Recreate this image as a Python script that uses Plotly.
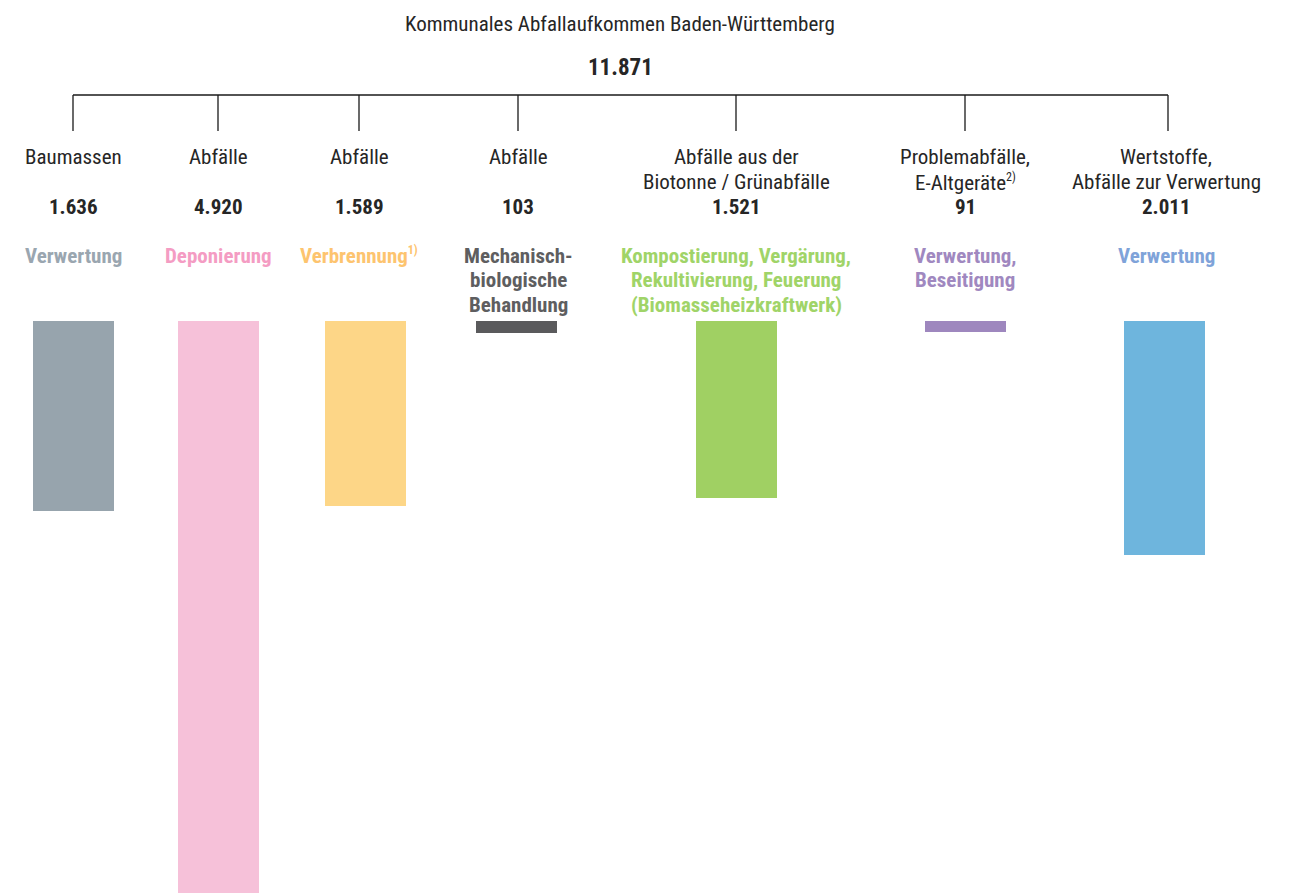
import plotly.graph_objects as go

# ---------------- data ----------------
categories = [
    "Baumassen",
    "Abfälle",
    "Abfälle",
    "Abfälle",
    "Abfälle aus der<br>Biotonne / Grünabfälle",
    "Problemabfälle,<br>E-Altgeräte<sup><span style='font-size:12px'>2)</span></sup>",
    "Wertstoffe,<br>Abfälle zur Verwertung",
]
values = [1636, 4920, 1589, 103, 1521, 91, 2011]
treatments = [
    "Verwertung",
    "Deponierung",
    "Verbrennung<sup><span style='font-size:12px'>1)</span></sup>",
    "Mechanisch-<br>biologische<br>Behandlung",
    "Kompostierung, Vergärung,<br>Rekultivierung, Feuerung<br>(Biomasseheizkraftwerk)",
    "Verwertung,<br>Beseitigung",
    "Verwertung",
]
title_text = "Kommunales Abfallaufkommen Baden-Württemberg"
total = sum(values)

# ---------------- styles / layout ----------------
bar_colors = ["#97A4AD", "#F6C1D9", "#FDD687", "#5A5A5C", "#A0D063", "#9E87BE", "#6EB5DD"]
text_colors = ["#9AA6B0", "#F49CC3", "#FDC46F", "#5E5E60", "#A0D468", "#A088C0", "#7FA3D9"]
bar_x = [73, 218, 365, 516, 736, 965, 1164]
label_x = [73, 218, 359, 518, 736, 965, 1166]
tick_x = [73, 218, 359, 518, 736, 965, 1168]

W, H = 1293, 893
BAR_TOP = 321
px_per_unit = (H - BAR_TOP) / max(values)
y_top = -BAR_TOP / px_per_unit
y_bottom = max(values)

FONT = "Liberation Sans Narrow, Arial Narrow, Roboto Condensed, Roboto, sans-serif"
DARK = "#262626"


def fmt(v):
    return f"{v:,}".replace(",", ".")


def py(px):
    return 1 - px / H


fig = go.Figure()
fig.add_trace(go.Bar(
    x=bar_x, y=values, base=0, width=81,
    marker=dict(color=bar_colors, line=dict(width=0)),
    hoverinfo="skip", showlegend=False,
))

ann = []


def add_text(x, y_px, text, size, color, bold=False):
    t = f"<b>{text}</b>" if bold else text
    ann.append(dict(x=x, y=py(y_px), xref="x", yref="paper", text=t,
                    showarrow=False, xanchor="center", yanchor="middle",
                    font=dict(family=FONT, size=size, color=color)))


add_text(620, 24, title_text, 21, DARK)
add_text(620, 68, fmt(total), 23, DARK, bold=True)

for i, cat in enumerate(categories):
    lines = cat.split("<br>")
    for j, ln in enumerate(lines):
        add_text(label_x[i], 157 + 25 * j, ln, 21, DARK)
    add_text(label_x[i], 207, fmt(values[i]), 21, DARK, bold=True)
    for j, ln in enumerate(treatments[i].split("<br>")):
        add_text(label_x[i], 256 + 24.5 * j, ln, 21, text_colors[i], bold=True)

shapes = [dict(type="line", xref="x", yref="paper", x0=tick_x[0], x1=tick_x[-1],
               y0=py(95), y1=py(95), line=dict(color="#1a1a1a", width=1.3))]
for tx in tick_x:
    shapes.append(dict(type="line", xref="x", yref="paper", x0=tx, x1=tx,
                       y0=py(95), y1=py(131), line=dict(color="#1a1a1a", width=1.3)))

fig.update_layout(
    width=W, height=H,
    margin=dict(l=0, r=0, t=0, b=0),
    paper_bgcolor="white", plot_bgcolor="white",
    xaxis=dict(range=[0, W], visible=False, fixedrange=True),
    yaxis=dict(range=[y_bottom, y_top], visible=False, fixedrange=True),
    annotations=ann, shapes=shapes,
    bargap=0,
)

fig.write_html("out.html", config={"displayModeBar": False},
               post_script="document.body.style.margin='0';document.body.style.overflow='hidden';")
